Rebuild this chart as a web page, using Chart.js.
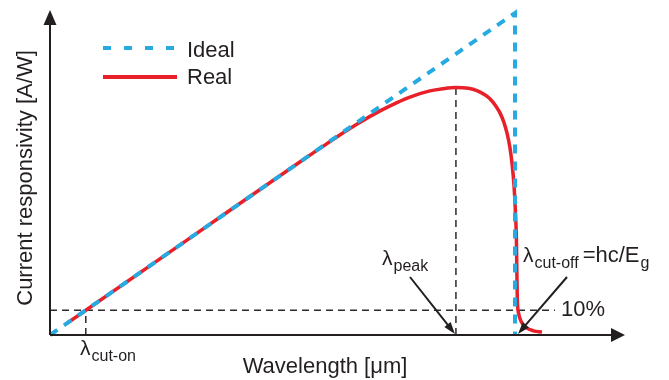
<!DOCTYPE html>
<html lang="en">
<head>
    <meta charset="UTF-8">
    <title>Current responsivity</title>
    <script src="https://cdn.jsdelivr.net/npm/chart.js@4.4.0/dist/chart.umd.min.js"></script>
    <style>
        html, body { margin: 0; padding: 0; background: #fff; }
        .chart-container { width: 669px; height: 380px; }
    </style>
</head>
<body>
<div class="chart-container">
    <canvas id="myChart" width="669" height="380"></canvas>
</div>

<script>
    // wavelength normalised to the cut-off, responsivity normalised to the ideal peak
    var idealX = [0, 1.0, 1.0];
    var idealY = [0, 1.0, 0];

    var realX = [0.039, 0.30, 0.538, 0.580, 0.624, 0.667, 0.710, 0.745, 0.774, 0.817, 0.845, 0.873, 0.900, 0.918, 0.935, 0.946, 0.958, 0.968, 0.976, 0.983, 0.989, 0.994, 0.998, 1.001, 1.003, 1.004, 1.005, 1.008, 1.014, 1.025, 1.040, 1.058];
    var realY = [0.039, 0.30, 0.538, 0.579, 0.622, 0.661, 0.696, 0.721, 0.739, 0.758, 0.765, 0.769, 0.766, 0.759, 0.746, 0.734, 0.713, 0.689, 0.661, 0.626, 0.583, 0.528, 0.462, 0.380, 0.300, 0.200, 0.112, 0.066, 0.040, 0.022, 0.013, 0.009];

    var tenPctX = [0, 1.086];
    var tenPctY = [0.077, 0.077];
    var cutOnX = [0.077, 0.077];
    var cutOnY = [0, 0.077];
    var peakX = [0.873, 0.873];
    var peakY = [0, 0.769];
    var cutOffX = 1.0;

    var seriesLabels = ['Ideal', 'Real'];

    function pts(xs, ys) {
        var out = [];
        for (var i = 0; i < xs.length; i++) out.push({ x: xs[i], y: ys[i] });
        return out;
    }

    var BLUE = '#27aae1';
    var RED = '#e8202a';
    var INK = '#231f20';
    var FONT = '"Liberation Sans", Arial, sans-serif';

    function guide(xs, ys) {
        return {
            data: pts(xs, ys),
            borderColor: '#2b2b2b',
            borderWidth: 1.5,
            borderDash: [7, 5],
            pointRadius: 0,
            fill: false,
            order: 3
        };
    }

    function arrow(ctx, x1, y1, x2, y2, len, wid) {
        var a = Math.atan2(y2 - y1, x2 - x1);
        ctx.beginPath();
        ctx.moveTo(x1, y1);
        ctx.lineTo(x2 - Math.cos(a) * len * 0.8, y2 - Math.sin(a) * len * 0.8);
        ctx.stroke();
        ctx.beginPath();
        ctx.moveTo(x2, y2);
        ctx.lineTo(x2 - Math.cos(a) * len + Math.sin(a) * wid / 2, y2 - Math.sin(a) * len - Math.cos(a) * wid / 2);
        ctx.lineTo(x2 - Math.cos(a) * len - Math.sin(a) * wid / 2, y2 - Math.sin(a) * len + Math.cos(a) * wid / 2);
        ctx.closePath();
        ctx.fill();
    }

    function lambda(ctx, x, y, sub, size, subSize) {
        ctx.font = size + 'px ' + FONT;
        ctx.fillText('\u03bb', x, y);
        var w = ctx.measureText('\u03bb').width;
        ctx.font = subSize + 'px ' + FONT;
        ctx.fillText(sub, x + w + 1, y + 6);
        return x + w + 1 + ctx.measureText(sub).width;
    }

    var decorations = {
        id: 'decorations',
        afterDraw: function (chart) {
            var ctx = chart.ctx;
            var area = chart.chartArea;
            var xs = chart.scales.x;
            ctx.save();
            ctx.fillStyle = INK;
            ctx.strokeStyle = INK;

            // axes with arrow heads
            ctx.lineWidth = 2;
            arrow(ctx, area.left, area.bottom, area.left, area.top, 15, 13);
            arrow(ctx, area.left, area.bottom, area.right, area.bottom, 14, 14);

            // annotation arrows
            ctx.lineWidth = 2;
            var px = xs.getPixelForValue(peakX[0]);
            arrow(ctx, 410, 277, px - 1, area.bottom - 1, 12, 8);
            var cx = xs.getPixelForValue(cutOffX);
            arrow(ctx, 567, 277, cx + 3, area.bottom - 1, 12, 8);

            // legend
            var ds = chart.data.datasets;
            ctx.lineWidth = 4;
            ctx.strokeStyle = ds[0].borderColor;
            ctx.setLineDash([8, 13]);
            ctx.beginPath(); ctx.moveTo(103, 48); ctx.lineTo(177, 48); ctx.stroke();
            ctx.setLineDash([]);
            ctx.lineWidth = 4;
            ctx.strokeStyle = ds[1].borderColor;
            ctx.beginPath(); ctx.moveTo(103, 77); ctx.lineTo(177, 77); ctx.stroke();

            ctx.fillStyle = INK;
            ctx.font = '22px ' + FONT;
            ctx.textAlign = 'left';
            ctx.textBaseline = 'alphabetic';
            ctx.fillText(ds[0].label, 187, 57);
            ctx.fillText(ds[1].label, 187, 84);

            // text labels
            ctx.fillText('10%', 561, 316);
            lambda(ctx, 80, 355, 'cut-on', 21, 16);
            lambda(ctx, 382, 265, 'peak', 21, 16);
            var end = lambda(ctx, 523, 262, 'cut-off', 21, 16);
            ctx.font = '22px ' + FONT;
            ctx.fillText('=hc/E', end + 4, 262);
            var w = ctx.measureText('=hc/E').width;
            ctx.font = '16px ' + FONT;
            ctx.fillText('g', end + 4 + w + 1, 268);

            // axis titles
            ctx.font = '22px ' + FONT;
            ctx.textAlign = 'center';
            ctx.fillText('Wavelength [\u03bcm]', 325, 373);
            ctx.translate(32, 178);
            ctx.rotate(-Math.PI / 2);
            ctx.fillText('Current responsivity [A/W]', 0, 0);
            ctx.restore();
        }
    };

    var ctx = document.getElementById('myChart').getContext('2d');
    new Chart(ctx, {
        type: 'line',
        data: {
            datasets: [
                {
                    label: seriesLabels[0],
                    data: pts(idealX, idealY),
                    borderColor: BLUE,
                    borderWidth: 4,
                    borderDash: [9, 8],
                    pointRadius: 0,
                    tension: 0,
                    fill: false,
                    order: 1
                },
                {
                    label: seriesLabels[1],
                    data: pts(realX, realY),
                    borderColor: RED,
                    borderWidth: 3.5,
                    pointRadius: 0,
                    cubicInterpolationMode: 'monotone',
                    fill: false,
                    order: 2
                },
                guide(tenPctX, tenPctY),
                guide(cutOnX, cutOnY),
                guide(peakX, peakY)
            ]
        },
        options: {
            responsive: false,
            animation: false,
            clip: false,
            layout: { padding: { left: 50, right: 44, top: 10, bottom: 45 } },
            plugins: { legend: { display: false }, tooltip: { enabled: false } },
            scales: {
                x: { type: 'linear', min: 0, max: 1.2366, display: false },
                y: { type: 'linear', min: 0, max: 1.0093, display: false }
            }
        },
        plugins: [decorations]
    });
</script>
</body>
</html>
